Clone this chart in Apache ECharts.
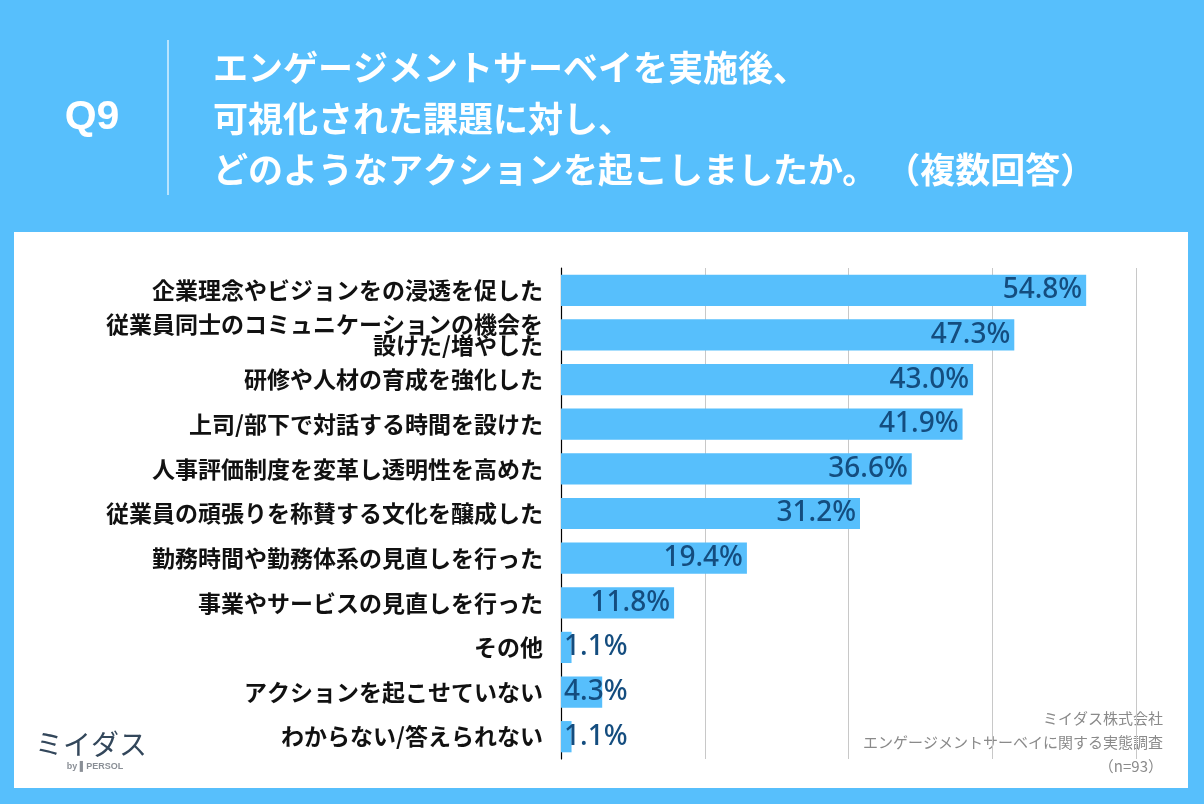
<!DOCTYPE html>
<html><head><meta charset="utf-8">
<script src="https://cdn.jsdelivr.net/npm/echarts@6/dist/echarts.min.js"></script>
<style>html,body{margin:0;padding:0;background:#57bffc}#c{width:1204px;height:804px}</style>
</head><body><div id="c"></div>
<script>
const categories = [
  "企業理念やビジョンをの浸透を促した",
  "従業員同士のコミュニケーションの機会を\n設けた/増やした",
  "研修や人材の育成を強化した",
  "上司/部下で対話する時間を設けた",
  "人事評価制度を変革し透明性を高めた",
  "従業員の頑張りを称賛する文化を醸成した",
  "勤務時間や勤務体系の見直しを行った",
  "事業やサービスの見直しを行った",
  "その他",
  "アクションを起こせていない",
  "わからない/答えられない"
];
const values = [54.8, 47.3, 43.0, 41.9, 36.6, 31.2, 19.4, 11.8, 1.1, 4.3, 1.1];
const titleLines = [
  "エンゲージメントサーベイを実施後、",
  "可視化された課題に対し、",
  "どのようなアクションを起こしましたか。 （複数回答）"
];
const sourceLines = ["ミイダス株式会社", "エンゲージメントサーベイに関する実態調査", "（n=93）"];

const BLUE = '#57bffc';
const chart = echarts.init(document.getElementById('c'));
const jp = '"Noto Sans CJK JP", "Noto Sans", sans-serif';

const graphics = [
  {type:'rect', shape:{x:14,y:232,width:1174,height:556}, style:{fill:'#ffffff'}, z:-10},
  {type:'text', x:92, y:118, style:{text:'Q9', fill:'#fff', font:'bold 41px "Liberation Sans", Arial, sans-serif', textAlign:'center', textVerticalAlign:'middle'}},
  {type:'line', shape:{x1:168,y1:40,x2:168,y2:195}, style:{stroke:'#d8f0ff', lineWidth:1.5}}
];
titleLines.forEach((t,i)=>{
  graphics.push({type:'text', x:213, y:68+i*51, style:{text:t, fill:'#fff', font:'bold 35px ' + jp, textVerticalAlign:'middle'}});
});
sourceLines.forEach((t,i)=>{
  graphics.push({type:'text', x:1163, y:718+i*24, style:{text:t, fill:'#8a8a8a', font:'15px ' + jp, textAlign:'right', textVerticalAlign:'middle'}});
});
graphics.push({type:'text', x:91, y:744, style:{text:'ミイダス', fill:'#33475b', font:'28px ' + jp, textAlign:'center', textVerticalAlign:'middle'}});
graphics.push({type:'text', x:95, y:767, style:{text:'by ▌PERSOL', fill:'#8a8f96', font:'bold 9px "Liberation Sans", sans-serif', textAlign:'center', textVerticalAlign:'middle'}});

chart.setOption({
  backgroundColor: BLUE,
  animation: false,
  graphic: graphics,
  grid: {left:561, top:268, width:575, height:491, containLabel:false},
  xAxis: {
    type:'value', min:0, max:60, interval:15,
    axisLine:{show:false}, axisTick:{show:false}, axisLabel:{show:false},
    splitLine:{show:true, lineStyle:{color:'#c8c8c8', width:1}}
  },
  yAxis: {
    type:'category', data:categories, inverse:true,
    axisLine:{show:true, lineStyle:{color:'#000', width:1.2}},
    axisTick:{show:false},
    axisLabel:{color:'#111', fontSize:23, fontWeight:'bold', fontFamily:jp, margin:18, lineHeight:21, align:'right'}
  },
  series: [{
    type:'bar',
    data: values.map(v => v < 8 ? {value:v, label:{position:'insideLeft', distance:3}} : {value:v}),
    barWidth:'70%',
    itemStyle:{color:BLUE},
    label:{
      show:true, position:'insideRight', distance:4,
      formatter: p => p.value.toFixed(1) + '%',
      color:'#144d7f', fontSize:28, fontWeight:500,
      fontFamily:'"Noto Sans", sans-serif'
    }
  }]
});
</script></body></html>
